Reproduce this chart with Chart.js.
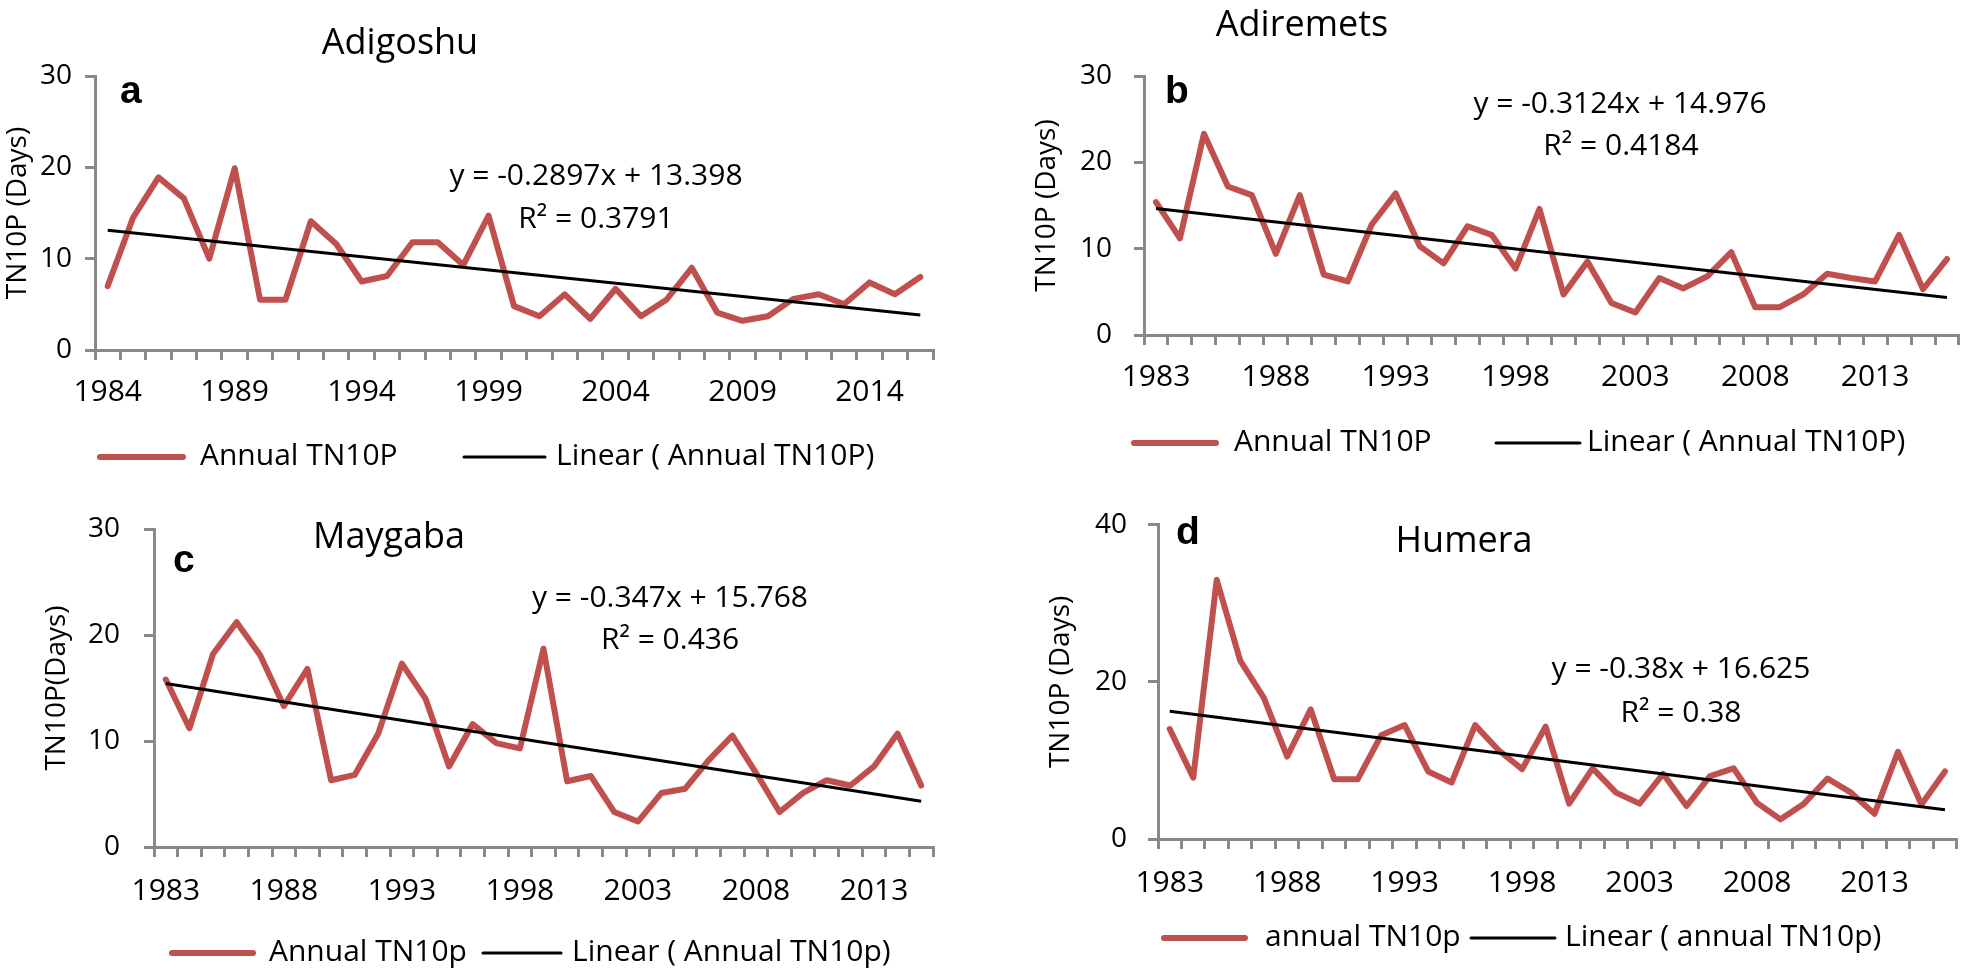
<!DOCTYPE html>
<html>
<head>
<meta charset="utf-8">
<script src="https://cdn.jsdelivr.net/npm/chart.js@4.4.0/dist/chart.umd.min.js"></script>
<style>
html, body { margin: 0; padding: 0; background: #fff; overflow: hidden; }
.panel { position: absolute; }
</style>
</head>
<body>
<div class="panel" style="left:0;top:0;width:980px;height:487px"><canvas id="chartA"></canvas></div>
<div class="panel" style="left:980px;top:0;width:981px;height:487px"><canvas id="chartB"></canvas></div>
<div class="panel" style="left:0;top:487px;width:980px;height:487px"><canvas id="chartC"></canvas></div>
<div class="panel" style="left:980px;top:487px;width:981px;height:487px"><canvas id="chartD"></canvas></div>
<script>
// years on the axes
const years = [1983, 1984, 1985, 1986, 1987, 1988, 1989, 1990, 1991, 1992, 1993, 1994,
    1995, 1996, 1997, 1998, 1999, 2000, 2001, 2002, 2003, 2004, 2005, 2006, 2007, 2008,
    2009, 2010, 2011, 2012, 2013, 2014, 2015, 2016];
const yearsAdigoshu = years.slice(1);      // 1984-2016
const yearsMaygaba = years.slice(0, 33);   // 1983-2015

// annual TN10P (days)
const adigoshu = [7.0, 14.5, 18.9, 16.6, 10.0, 19.9, 5.5, 5.5, 14.1, 11.6, 7.5, 8.1, 11.8,
    11.8, 9.3, 14.7, 4.8, 3.7, 6.1, 3.4, 6.7, 3.7, 5.5, 9.0, 4.1, 3.2, 3.7, 5.6, 6.1, 5.0,
    7.4, 6.1, 8.0];
const adiremets = [15.4, 11.2, 23.3, 17.2, 16.2, 9.4, 16.2, 7.0, 6.2, 12.8, 16.4, 10.3,
    8.3, 12.6, 11.6, 7.7, 14.6, 4.7, 8.5, 3.7, 2.6, 6.6, 5.4, 6.8, 9.6, 3.2, 3.2, 4.7, 7.1,
    6.6, 6.2, 11.6, 5.3, 8.8];
const maygaba = [15.8, 11.2, 18.2, 21.2, 18.1, 13.3, 16.8, 6.3, 6.8, 10.7, 17.3, 14.0, 7.6,
    11.6, 9.8, 9.3, 18.7, 6.2, 6.7, 3.3, 2.4, 5.1, 5.5, 8.2, 10.5, 7.0, 3.3, 5.1, 6.3, 5.8,
    7.6, 10.7, 5.8];
const humera = [14.0, 7.8, 33.0, 22.7, 18.0, 10.5, 16.5, 7.6, 7.6, 13.2, 14.5, 8.6, 7.2,
    14.5, 11.3, 8.9, 14.3, 4.5, 9.0, 5.9, 4.5, 8.3, 4.2, 8.0, 9.0, 4.6, 2.5, 4.5, 7.7, 5.9,
    3.2, 11.1, 4.4, 8.6];

// linear trend, value at first and last year
const trendAdigoshu = [13.11, 3.84];
const trendAdiremets = [14.66, 4.35];
const trendMaygaba = [15.42, 4.32];
const trendHumera = [16.25, 3.71];

const RED = '#C0504D';
const AXIS = '#898989';
const TITLE_FONT = "36px 'Open Sans'";
const LETTER_FONT = "bold 39px 'Liberation Sans'";
const EQ_FONT = "30px 'Open Sans'";
const LEGEND_FONT = "30px 'Open Sans'";

Chart.defaults.font.family = "'Open Sans', sans-serif";
Chart.defaults.color = '#000';

// titles, panel letters, trend equations and the Excel-style legend row
const panelText = {
    id: 'panelText',
    afterDraw(chart, args, opts) {
        const ctx = chart.ctx;
        const ox = opts.ox, oy = opts.oy;
        ctx.save();
        ctx.fillStyle = '#000';
        ctx.textBaseline = 'alphabetic';
        (opts.items || []).forEach(it => {
            ctx.font = it.font;
            ctx.textAlign = it.align || 'center';
            ctx.fillText(it.text, it.x - ox, it.y - oy);
        });
        const lg = opts.legend;
        if (lg) {
            chart.data.datasets.forEach((ds, i) => {
                const spot = lg.items[i];
                ctx.beginPath();
                ctx.strokeStyle = ds.borderColor;
                ctx.lineWidth = ds.borderWidth;
                ctx.lineCap = 'round';
                ctx.moveTo(spot.x1 - ox, lg.y - oy);
                ctx.lineTo(spot.x2 - ox, lg.y - oy);
                ctx.stroke();
                ctx.font = LEGEND_FONT;
                ctx.textAlign = 'left';
                ctx.textBaseline = 'middle';
                ctx.fillText(ds.label, spot.tx - ox, lg.y - oy - 1);
            });
        }
        ctx.restore();
    }
};
Chart.register(panelText);

function makePanel(id, p) {
    const n = p.values.length;
    const trendData = p.values.map((v, i) => i === 0 ? p.trend[0] : (i === n - 1 ? p.trend[1] : null));
    return new Chart(document.getElementById(id), {
        type: 'line',
        data: {
            labels: p.labels.map(String),
            datasets: [{
                label: p.series,
                data: p.values,
                borderColor: RED,
                backgroundColor: RED,
                borderWidth: 6,
                borderJoinStyle: 'round',
                borderCapStyle: 'round',
                pointRadius: 0,
                pointHoverRadius: 0,
                tension: 0,
                order: 1
            }, {
                label: 'Linear ( ' + p.series + ')',
                data: trendData,
                spanGaps: true,
                borderColor: '#000',
                backgroundColor: '#000',
                borderWidth: 3,
                pointRadius: 0,
                pointHoverRadius: 0,
                tension: 0,
                order: 0
            }]
        },
        options: {
            responsive: true,
            maintainAspectRatio: false,
            animation: false,
            events: [],
            layout: { padding: p.pad },
            plugins: {
                tooltip: { enabled: false },
                legend: { display: false },
                panelText: { ox: p.ox, oy: p.oy, items: p.texts, legend: p.legend }
            },
            scales: {
                x: {
                    offset: true,
                    grid: { offset: true, drawOnChartArea: false, tickLength: 10, color: AXIS, lineWidth: 3 },
                    border: { color: AXIS, width: 3 },
                    ticks: {
                        autoSkip: false,
                        maxRotation: 0,
                        padding: p.xTickPad,
                        font: { size: 30 },
                        color: '#000',
                        callback: function (v, i) { return i % 5 === 0 ? this.getLabelForValue(v) : ''; }
                    },
                    afterFit: (s) => { s.height = 66; }
                },
                y: {
                    min: 0,
                    max: p.yMax,
                    grid: { drawOnChartArea: false, tickLength: 10, color: AXIS, lineWidth: 3 },
                    border: { color: AXIS, width: 3 },
                    ticks: { stepSize: p.yStep, padding: p.yTickPad, font: { size: 28 }, color: '#000' },
                    title: {
                        display: true,
                        text: p.yTitle,
                        font: { size: 28 },
                        color: '#000',
                        padding: { top: p.yTitlePad, bottom: 0 }
                    },
                    afterFit: (s) => { s.width = p.yWidth; }
                }
            }
        }
    });
}

makePanel('chartA', {
    labels: yearsAdigoshu, values: adigoshu, trend: trendAdigoshu,
    series: 'Annual TN10P', yTitle: 'TN10P (Days)', yMax: 30, yStep: 10,
    ox: 0, oy: 0,
    pad: { top: 76, right: 47, bottom: 71, left: 0 },
    yWidth: 95, yTickPad: 13, yTitlePad: 1.2, xTickPad: 14,
    legend: { y: 457, items: [{ x1: 100, x2: 183, tx: 200 }, { x1: 464, x2: 545, tx: 556 }] },
    texts: [
        { text: 'Adigoshu', x: 400, y: 54, font: TITLE_FONT },
        { text: 'a', x: 120, y: 103, font: LETTER_FONT, align: 'left' },
        { text: 'y = -0.2897x + 13.398', x: 596, y: 185, font: EQ_FONT },
        { text: 'R² = 0.3791', x: 596, y: 228, font: EQ_FONT }
    ]
});

makePanel('chartB', {
    labels: years, values: adiremets, trend: trendAdiremets,
    series: 'Annual TN10P', yTitle: 'TN10P (Days)', yMax: 30, yStep: 10,
    ox: 980, oy: 0,
    pad: { top: 76, right: 1, bottom: 86, left: 0 },
    yWidth: 164, yTickPad: 22, yTitlePad: 50.2, xTickPad: 14,
    legend: { y: 443, items: [{ x1: 1134, x2: 1216, tx: 1234 }, { x1: 1496, x2: 1580, tx: 1587 }] },
    texts: [
        { text: 'Adiremets', x: 1302, y: 36, font: TITLE_FONT },
        { text: 'b', x: 1165, y: 103, font: LETTER_FONT, align: 'left' },
        { text: 'y = -0.3124x + 14.976', x: 1620, y: 113, font: EQ_FONT },
        { text: 'R² = 0.4184', x: 1621, y: 155, font: EQ_FONT }
    ]
});

makePanel('chartC', {
    labels: yearsMaygaba, values: maygaba, trend: trendMaygaba,
    series: 'Annual TN10p', yTitle: 'TN10P(Days)', yMax: 30, yStep: 10,
    ox: 0, oy: 487,
    pad: { top: 42, right: 47, bottom: 61, left: 0 },
    yWidth: 154, yTickPad: 24, yTitlePad: 40.2, xTickPad: 16,
    legend: { y: 953, items: [{ x1: 172, x2: 253, tx: 269 }, { x1: 483, x2: 561, tx: 572 }] },
    texts: [
        { text: 'Maygaba', x: 389, y: 548, font: TITLE_FONT },
        { text: 'c', x: 173, y: 572, font: LETTER_FONT, align: 'left' },
        { text: 'y = -0.347x + 15.768', x: 670, y: 607, font: EQ_FONT },
        { text: 'R² = 0.436', x: 670, y: 649, font: EQ_FONT }
    ]
});

makePanel('chartD', {
    labels: years, values: humera, trend: trendHumera,
    series: 'annual TN10p', yTitle: 'TN10P (Days)', yMax: 40, yStep: 20,
    ox: 980, oy: 487,
    pad: { top: 26, right: 3, bottom: 69, left: 0 },
    yWidth: 178, yTickPad: 21, yTitlePad: 64.2, xTickPad: 16,
    legend: { y: 938, items: [{ x1: 1164, x2: 1245, tx: 1265 }, { x1: 1471, x2: 1555, tx: 1565 }] },
    texts: [
        { text: 'Humera', x: 1464, y: 552, font: TITLE_FONT },
        { text: 'd', x: 1176, y: 544, font: LETTER_FONT, align: 'left' },
        { text: 'y = -0.38x + 16.625', x: 1681, y: 678, font: EQ_FONT },
        { text: 'R² = 0.38', x: 1681, y: 722, font: EQ_FONT }
    ]
});
</script>
</body>
</html>
